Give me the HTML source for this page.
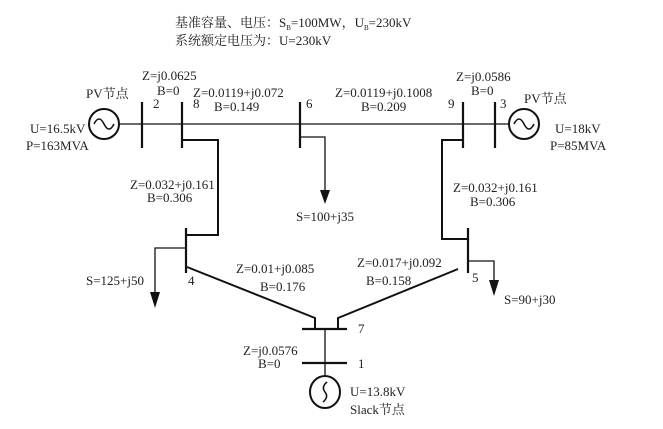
<!DOCTYPE html>
<html><head><meta charset="utf-8"><style>
body{margin:0;background:#fff}
svg text{font-family:"Liberation Serif","Noto Serif CJK SC",serif;font-size:13px;fill:#222}
</style></head><body>
<svg width="663" height="424" viewBox="0 0 663 424" xmlns="http://www.w3.org/2000/svg">
<g stroke="#111" fill="none">
<line x1="119" y1="124" x2="509" y2="124" stroke-width="1.2"/>
<circle cx="104" cy="124" r="15" stroke-width="2"/>
<path d="M94 124 q5 -10 10 0 q5 10 10 0" stroke-width="1.5"/>
<circle cx="524" cy="124" r="15" stroke-width="2"/>
<path d="M514 124 q5 -10 10 0 q5 10 10 0" stroke-width="1.5"/>
<g stroke-width="2.2">
<line x1="142" y1="102" x2="142" y2="148"/>
<line x1="182" y1="102" x2="182" y2="148"/>
<line x1="300" y1="102" x2="300" y2="148"/>
<line x1="463" y1="102" x2="463" y2="148"/>
<line x1="495" y1="102" x2="495" y2="148"/>
<line x1="186" y1="228" x2="186" y2="273"/>
<line x1="468" y1="228" x2="468" y2="273"/>
<line x1="302" y1="329" x2="347" y2="329"/>
<line x1="302" y1="363" x2="347" y2="363"/>
</g>
<g stroke-width="2">
<polyline points="182,140 218,140 218,235 186,235"/>
<polyline points="463,140 442,140 442,239 468,239"/>
<polyline points="187,267 315,318 315,329"/>
<polyline points="458,269 338,318 338,329"/>
</g>
<g stroke-width="1.3">
<polyline points="300,137 325,137 325,192"/>
<polyline points="186,248 155,248 155,294"/>
<polyline points="468,261 494,261 494,282"/>
<line x1="325" y1="329" x2="325" y2="376"/>
</g>
<ellipse cx="325" cy="392" rx="15" ry="16" stroke-width="2"/>
<path d="M327 382 q-6 5 -2 10 q4 5 -2 10" stroke-width="1.5"/>
</g>
<g fill="#111">
<polygon points="320,190 330,190 325,204"/>
<polygon points="150,292 160,292 155,308"/>
<polygon points="489,280 499,280 494,296"/>
</g>
<text x="175" y="27">基准容量、电压：S<tspan font-size="7" dy="3">B</tspan><tspan dy="-3">=100MW，U</tspan><tspan font-size="7" dy="3">B</tspan><tspan dy="-3">=230kV</tspan></text>
<text x="175" y="45">系统额定电压为：U=230kV</text>
<text x="86" y="98">PV节点</text>
<text x="524" y="103">PV节点</text>
<text x="142" y="80">Z=j0.0625</text>
<text x="157" y="95">B=0</text>
<text x="193" y="97">Z=0.0119+j0.072</text>
<text x="214" y="111">B=0.149</text>
<text x="153" y="108">2</text>
<text x="193" y="108">8</text>
<text x="306" y="108">6</text>
<text x="335" y="97">Z=0.0119+j0.1008</text>
<text x="361" y="111">B=0.209</text>
<text x="448" y="108">9</text>
<text x="500" y="108">3</text>
<text x="456" y="81">Z=j0.0586</text>
<text x="471" y="95">B=0</text>
<text x="30" y="133">U=16.5kV</text>
<text x="26" y="150">P=163MVA</text>
<text x="555" y="133">U=18kV</text>
<text x="550" y="150">P=85MVA</text>
<text x="130" y="189">Z=0.032+j0.161</text>
<text x="147" y="202">B=0.306</text>
<text x="453" y="192">Z=0.032+j0.161</text>
<text x="470" y="206">B=0.306</text>
<text x="296" y="221">S=100+j35</text>
<text x="86" y="285">S=125+j50</text>
<text x="188" y="285">4</text>
<text x="236" y="273">Z=0.01+j0.085</text>
<text x="260" y="291">B=0.176</text>
<text x="357" y="267">Z=0.017+j0.092</text>
<text x="366" y="285">B=0.158</text>
<text x="472" y="282">5</text>
<text x="504" y="304">S=90+j30</text>
<text x="358" y="333">7</text>
<text x="243" y="355">Z=j0.0576</text>
<text x="258" y="368">B=0</text>
<text x="358" y="368">1</text>
<text x="350" y="396">U=13.8kV</text>
<text x="350" y="414">Slack节点</text>
</svg>
</body></html>
